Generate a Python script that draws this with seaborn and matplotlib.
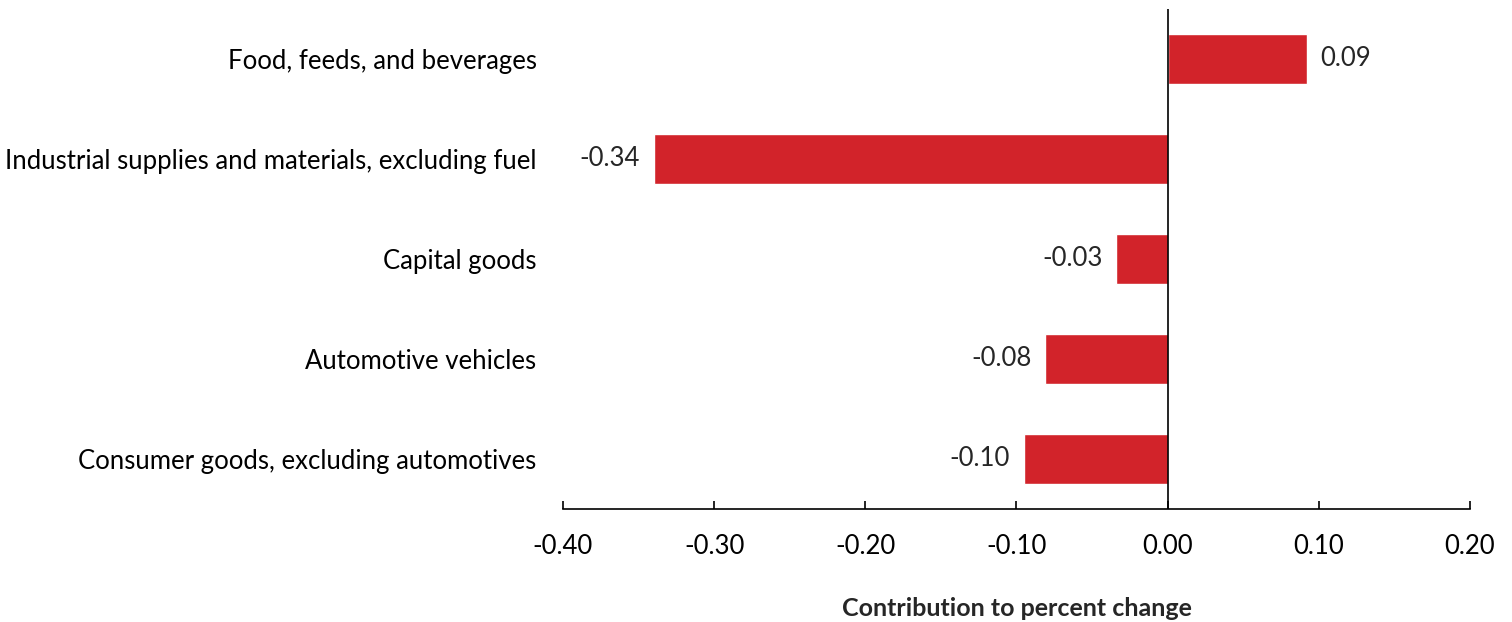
import matplotlib
matplotlib.use("Agg")
import matplotlib.pyplot as plt
import seaborn as sns
import pandas as pd

categories = [
    "Food, feeds, and beverages",
    "Industrial supplies and materials, excluding fuel",
    "Capital goods",
    "Automotive vehicles",
    "Consumer goods, excluding automotives",
]
values = [0.092, -0.34, -0.034, -0.081, -0.095]
labels = ["0.09", "-0.34", "-0.03", "-0.08", "-0.10"]
xticks = [-0.40, -0.30, -0.20, -0.10, 0.00, 0.10, 0.20]

sns.set_theme(style="white")
plt.rcParams['font.family'] = ['Lato', 'DejaVu Sans']

df = pd.DataFrame({"category": categories, "value": values})

FS = 18.5

fig = plt.figure(figsize=(15.12, 6.22), dpi=100)
ax = fig.add_axes([563/1512, (622-509)/622, (1470-563)/1512, 500/622])
sns.barplot(data=df, x="value", y="category", orient="h", color="#D2232A",
            saturation=1, width=0.5, ax=ax)

ax.set_xlim(-0.40, 0.20)
ax.set_ylim(4.5, -0.5)
ax.set_xticks(xticks)
ax.set_xticklabels([f"{t:.2f}" for t in xticks], fontsize=FS)
ax.tick_params(axis="x", bottom=True, direction="in", length=6, width=1.2, pad=18, colors="black")
ax.tick_params(axis="y", left=False, length=0, pad=19, labelsize=FS, colors="black")
ax.set_ylabel("")
ax.set_xlabel("Contribution to percent change", fontsize=18, fontweight="bold", labelpad=27)

for s in ["top", "right", "left"]:
    ax.spines[s].set_visible(False)
ax.spines["bottom"].set_color("black")
ax.spines["bottom"].set_linewidth(1.2)
ax.axvline(0, color="black", linewidth=1.2)

for i, (v, lab) in enumerate(zip(values, labels)):
    if v >= 0:
        ax.annotate(lab, (v, i), xytext=(10, 0), textcoords="offset points",
                    ha="left", va="center", fontsize=FS)
    else:
        ax.annotate(lab, (v, i), xytext=(-10, 0), textcoords="offset points",
                    ha="right", va="center", fontsize=FS)

fig.savefig("out.png", dpi=100)
